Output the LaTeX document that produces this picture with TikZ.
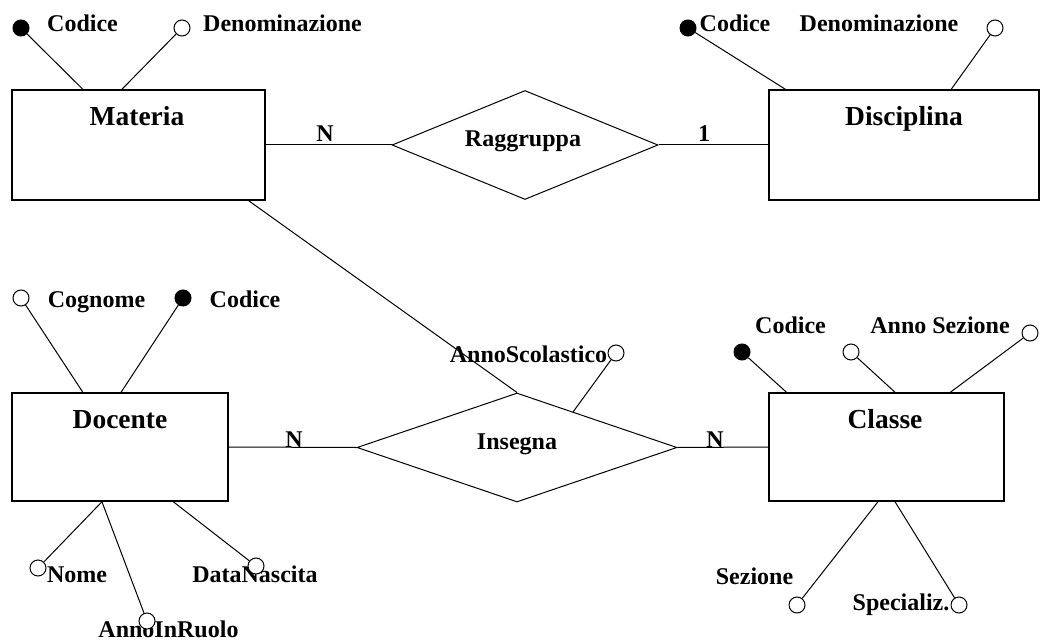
\documentclass[tikz,border=0pt]{standalone}
\usepackage{fontspec}
\setmainfont{Liberation Serif}
\usetikzlibrary{shapes.geometric,calc}
\begin{document}
\begin{tikzpicture}[x=1pt,y=-1pt,
  entity/.style={draw,line width=1.5pt,rectangle,inner sep=0pt},
  relation/.style={draw,line width=1pt,diamond,inner sep=0pt},
  attr/.style={draw,line width=1pt,circle,fill=white,minimum size=16pt,inner sep=0pt},
  keyattr/.style={attr,fill=black},
  txt/.style={inner sep=0pt,anchor=base,font=\fontsize{24}{28}\selectfont\bfseries},
  enttxt/.style={txt,font=\fontsize{27.5}{32}\selectfont\bfseries},
  link/.style={line width=1pt}]
\useasboundingbox (0,0) rectangle (1040,644);

% attribute, relationship and cardinality texts
\node[txt] (lmCod) at (82.5,32) {Codice};
\node[txt] (lmDen) at (282.5,32) {Denominazione};
\node[txt] (ldCod) at (735,32) {Codice};
\node[txt] (ldDen) at (879,32) {Denominazione};
\node[txt] (loCog) at (96.5,307) {Cognome};
\node[txt] (loCod) at (245,307) {Codice};
\node[txt] (loNom) at (77,582) {Nome};
\node[txt] (loDat) at (255,582) {DataNascita};
\node[txt] (loAnn) at (168.5,637) {AnnoInRuolo};
\node[txt] (liAnn) at (528.5,362) {AnnoScolastico};
\node[txt] (lcCod) at (790.5,333) {Codice};
\node[txt] (lcAnn) at (940,333) {Anno Sezione};
\node[txt] (lcSez) at (754.5,584) {Sezione};
\node[txt] (lcSpe) at (901,610) {Specializ.};
\node[txt] (tRaggruppa) at (523,147) {Raggruppa};
\node[txt] (tInsegna) at (517,449) {Insegna};
\node[txt] (k1) at (325,142) {N};
\node[txt] (k2) at (704,142) {1};
\node[txt] (k3) at (294,447) {N};
\node[txt] (k4) at (715,447) {N};

% entities
\node[entity,minimum width=253pt,minimum height=110pt] (materia) at (138.5,145) {};
\node[entity,minimum width=270pt,minimum height=110pt] (disciplina) at (904,145) {};
\node[entity,minimum width=216pt,minimum height=108pt] (docente) at (120,447) {};
\node[entity,minimum width=235pt,minimum height=108pt] (classe) at (886.5,447) {};
\node[enttxt] (tMateria) at (137,126) {Materia};
\node[enttxt] (tDisciplina) at (904,126) {Disciplina};
\node[enttxt] (tDocente) at (120,428) {Docente};
\node[enttxt] (tClasse) at (885,428) {Classe};

% relationships
\node[relation,minimum width=266pt,minimum height=109pt] (raggruppa) at (525,145) {};
\node[relation,minimum width=320pt,minimum height=109pt] (insegna) at (517,447.5) {};

% attribute markers
\node[keyattr] (mCod) at (21,28) {};
\node[attr] (mDen) at (182,28) {};
\node[keyattr] (dCod) at (688,28) {};
\node[attr] (dDen) at (995,28) {};
\node[attr] (oCog) at (21,298) {};
\node[keyattr] (oCod) at (183,298) {};
\node[attr] (oNom) at (38,568) {};
\node[attr] (oAnn) at (147,621) {};
\node[attr] (oDat) at (256,566) {};
\node[attr] (iAnn) at (616,353) {};
\node[keyattr] (cCod) at (742,352) {};
\node[attr] (cAnn) at (851,352) {};
\node[attr] (cSez0) at (1030,333) {};
\node[attr] (cSez) at (797,605) {};
\node[attr] (cSpe) at (959,605) {};

% relationship links
\draw[link] (materia.east) -- (raggruppa.west);
\draw[link] (raggruppa.east) -- (disciplina.west);
\draw[link] (docente.east) -- (insegna.west);
\draw[link] (insegna.east) -- (classe.west);
\draw[link] ($(materia.south west)!0.933!(materia.south east)$) -- (insegna.north);

% attribute links
\draw[link] (mCod) -- ($(materia.north west)!0.281!(materia.north east)$);
\draw[link] (mDen) -- ($(materia.north west)!0.435!(materia.north east)$);
\draw[link] (dCod) -- ($(disciplina.north west)!0.063!(disciplina.north east)$);
\draw[link] (dDen) -- ($(disciplina.north west)!0.674!(disciplina.north east)$);
\draw[link] (oCog) -- ($(docente.north west)!0.329!(docente.north east)$);
\draw[link] (oCod) -- ($(docente.north west)!0.505!(docente.north east)$);
\draw[link] (oNom) -- ($(docente.south west)!0.417!(docente.south east)$);
\draw[link] (oAnn) -- ($(docente.south west)!0.417!(docente.south east)$);
\draw[link] (oDat) -- ($(docente.south west)!0.745!(docente.south east)$);
\draw[link] (iAnn) -- ($(insegna.north)!0.35!(insegna.east)$);
\draw[link] (cCod) -- ($(classe.north west)!0.077!(classe.north east)$);
\draw[link] (cAnn) -- ($(classe.north west)!0.536!(classe.north east)$);
\draw[link] (cSez0) -- ($(classe.north west)!0.770!(classe.north east)$);
\draw[link] (cSez) -- ($(classe.south west)!0.464!(classe.south east)$);
\draw[link] (cSpe) -- ($(classe.south west)!0.536!(classe.south east)$);
\end{tikzpicture}
\end{document}
